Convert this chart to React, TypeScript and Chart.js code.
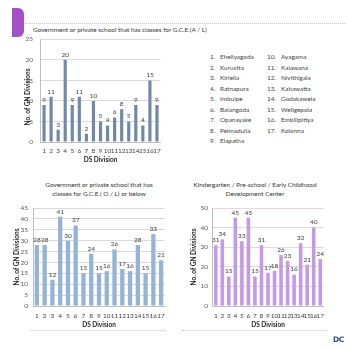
import React, { useEffect, useRef } from "react";
import { Chart, registerables } from "chart.js";

Chart.register(...registerables);

const divisions = ["1", "2", "3", "4", "5", "6", "7", "8", "9", "10", "11", "12", "13", "14", "15", "16", "17"];
const alValues = [9, 11, 3, 20, 9, 11, 2, 10, 5, 4, 6, 8, 5, 9, 4, 15, 9];
const olValues = [28, 28, 12, 41, 30, 37, 15, 24, 15, 16, 26, 17, 16, 28, 15, 33, 21];
const kgValues = [31, 34, 15, 45, 33, 45, 15, 31, 17, 18, 26, 23, 16, 32, 21, 40, 24];
const dsNames = [
  "Eheliyagoda", "Kuruvita", "Kiriella", "Ratnapura", "Imbulpe", "Balangoda", "Opanayake", "Pelmadulla", "Elapatha",
  "Ayagama", "Kalawana", "Nivithigala", "Kahawatta", "Godakawela", "Weligepola", "Embilipitiya", "Kolonna",
];
const alTitle = "Government or private school that has classes for G.C.E.(A / L)";
const olTitle = ["Government or private school that has", "classes for G.C.E.( O / L) or below"];
const kgTitle = ["Kindergarten / Pre-school / Early Childhood", "Development Center"];
const yAxisTitle = "No. of GN Divisions";
const xAxisTitle = "DS Division";

const FONT = "Lato, 'Open Sans', sans-serif";

const valueLabels = {
  id: "valueLabels",
  afterDatasetsDraw(chart: any) {
    const ctx = chart.ctx;
    const meta = chart.getDatasetMeta(0);
    const data = chart.data.datasets[0].data;
    ctx.save();
    ctx.font = `6.5px ${FONT}`;
    ctx.fillStyle = "#404040";
    ctx.textAlign = "center";
    ctx.textBaseline = "bottom";
    meta.data.forEach((bar: any, i: number) => {
      ctx.fillText(String(data[i]), bar.x, bar.y - 2);
    });
    ctx.restore();
  },
};

const axisTitles = {
  id: "axisTitles",
  afterDraw(chart: any, _args: any, opts: any) {
    const ctx = chart.ctx;
    ctx.save();
    ctx.font = `bold 6.5px ${FONT}`;
    ctx.fillStyle = "#262626";
    ctx.textAlign = "center";
    ctx.textBaseline = "middle";
    ctx.fillText(opts.xText, opts.xX, opts.xY);
    ctx.translate(opts.yX, opts.yY);
    ctx.rotate(-Math.PI / 2);
    ctx.fillText(opts.yText, 0, 0);
    ctx.restore();
  },
};

type BarProps = {
  values: number[];
  color: string;
  gridColor: string;
  yMax: number;
  box: { left: number; top: number; width: number; height: number };
  area: { left: number; right: number; top: number; bottom: number };
  tickPadY: number;
  tickPadX: number;
  barPct: number;
  yTitlePos: [number, number];
  xTitlePos: [number, number];
};

function BarChart(p: BarProps) {
  const ref = useRef<HTMLCanvasElement>(null);
  useEffect(() => {
    if (!ref.current) return;
    const { box, area } = p;
    const chart = new Chart(ref.current, {
      type: "bar",
      data: {
        labels: divisions,
        datasets: [
          {
            data: p.values,
            backgroundColor: p.color,
            borderWidth: 0,
            categoryPercentage: 1,
            barPercentage: p.barPct,
          },
        ],
      },
      options: {
        responsive: false,
        animation: false,
        maintainAspectRatio: false,
        layout: { padding: { left: 0, top: area.top, right: box.width - area.right, bottom: 0 } },
        plugins: {
          legend: { display: false },
          tooltip: { enabled: false },
          axisTitles: {
            yText: yAxisTitle,
            yX: p.yTitlePos[0],
            yY: p.yTitlePos[1],
            xText: xAxisTitle,
            xX: p.xTitlePos[0],
            xY: p.xTitlePos[1],
          },
        } as any,
        scales: {
          x: {
            grid: { display: false, drawTicks: false },
            border: { display: true, color: "#bfbfbf" },
            ticks: {
              autoSkip: false,
              maxRotation: 0,
              minRotation: 0,
              padding: p.tickPadX,
              color: "#404040",
              font: { family: FONT, size: 6.5 },
            },
            afterFit: (s: any) => {
              s.height = box.height - area.bottom;
            },
          },
          y: {
            min: 0,
            max: p.yMax,
            grid: { color: p.gridColor, drawTicks: false, lineWidth: 1 },
            border: { display: true, color: "#bfbfbf" },
            ticks: {
              stepSize: 5,
              padding: p.tickPadY,
              color: "#595959",
              font: { family: FONT, size: 6.5 },
            },
            afterFit: (s: any) => {
              s.width = area.left;
            },
          },
        },
      } as any,
      plugins: [valueLabels, axisTitles],
    });
    return () => chart.destroy();
  }, []);
  return (
    <canvas
      ref={ref}
      width={p.box.width}
      height={p.box.height}
      style={{ position: "absolute", left: p.box.left, top: p.box.top, width: p.box.width, height: p.box.height }}
    />
  );
}

const textStyle: React.CSSProperties = {
  position: "absolute",
  fontFamily: FONT,
  fontSize: "6.4px",
  color: "#333",
  whiteSpace: "nowrap",
  lineHeight: "8px",
};

export default function App() {
  const rowY = (i: number) => 57 + 10.5 * i;
  return (
    <div
      style={{
        position: "fixed",
        left: 0,
        top: 0,
        width: 347,
        height: 349,
        background: "#fff",
        overflow: "hidden",
      }}
    >
      <div
        style={{
          position: "absolute",
          left: 12,
          top: 8,
          width: 12,
          height: 29,
          background: "#a451c9",
          borderRadius: "0 6px 6px 0",
        }}
      />
      <div style={{ position: "absolute", left: 25, top: 23, width: 320, borderTop: "1px dotted #c8c8c8" }} />
      <div style={{ ...textStyle, left: 33, top: 26 }}>{alTitle}</div>

      {dsNames.map((n, i) => {
        const col = i < 9 ? 0 : 1;
        const row = col === 0 ? i : i - 9;
        const y = rowY(row) - 4;
        return (
          <React.Fragment key={n}>
            <div style={{ ...textStyle, color: "#444", left: col === 0 ? 210 : 267, top: y }}>{`${i + 1}.`}</div>
            <div style={{ ...textStyle, color: "#444", left: col === 0 ? 220 : 281, top: y }}>{n}</div>
          </React.Fragment>
        );
      })}

      <BarChart
        values={alValues}
        color="#7089a8"
        gridColor="#d9d9d9"
        yMax={25}
        box={{ left: 0, top: 28, width: 175, height: 142 }}
        area={{ left: 40.5, right: 160.5, top: 10, bottom: 114 }}
        tickPadY={7.5}
        tickPadX={5.5}
        barPct={0.45}
        yTitlePos={[28, 69]}
        xTitlePos={[100.5, 132]}
      />

      <div style={{ ...textStyle, left: 19, top: 180, width: 160, textAlign: "center", lineHeight: "9px" }}>
        {olTitle[0]}
        <br />
        {olTitle[1]}
      </div>
      <div style={{ ...textStyle, left: 175, top: 180, width: 160, textAlign: "center", lineHeight: "9px" }}>
        {kgTitle[0]}
        <br />
        {kgTitle[1]}
      </div>

      <BarChart
        values={olValues}
        color="#95b3d7"
        gridColor="#d9d9d9"
        yMax={45}
        box={{ left: 0, top: 198, width: 175, height: 134 }}
        area={{ left: 33, right: 165, top: 10, bottom: 108 }}
        tickPadY={5}
        tickPadX={6.5}
        barPct={0.55}
        yTitlePos={[17, 59]}
        xTitlePos={[99, 127]}
      />
      <BarChart
        values={kgValues}
        color="#c49ae6"
        gridColor="#ead6d6"
        yMax={50}
        box={{ left: 175, top: 198, width: 172, height: 134 }}
        area={{ left: 37.5, right: 148.5, top: 10, bottom: 108 }}
        tickPadY={4.5}
        tickPadX={6.5}
        barPct={0.55}
        yTitlePos={[19, 59]}
        xTitlePos={[93, 127]}
      />

      <div style={{ position: "absolute", left: 30, top: 330, width: 135, borderTop: "1px dotted #c8c8c8" }} />
      <div style={{ position: "absolute", left: 182, top: 330, width: 146, borderTop: "1px dotted #c8c8c8" }} />
      <div
        style={{
          position: "absolute",
          left: 333,
          top: 335,
          fontFamily: "'DejaVu Sans', sans-serif",
          fontWeight: "bold",
          fontSize: "7.5px",
          color: "#2b4f8e",
          lineHeight: "9px",
          letterSpacing: "-0.5px",
        }}
      >
        DC
      </div>
    </div>
  );
}
